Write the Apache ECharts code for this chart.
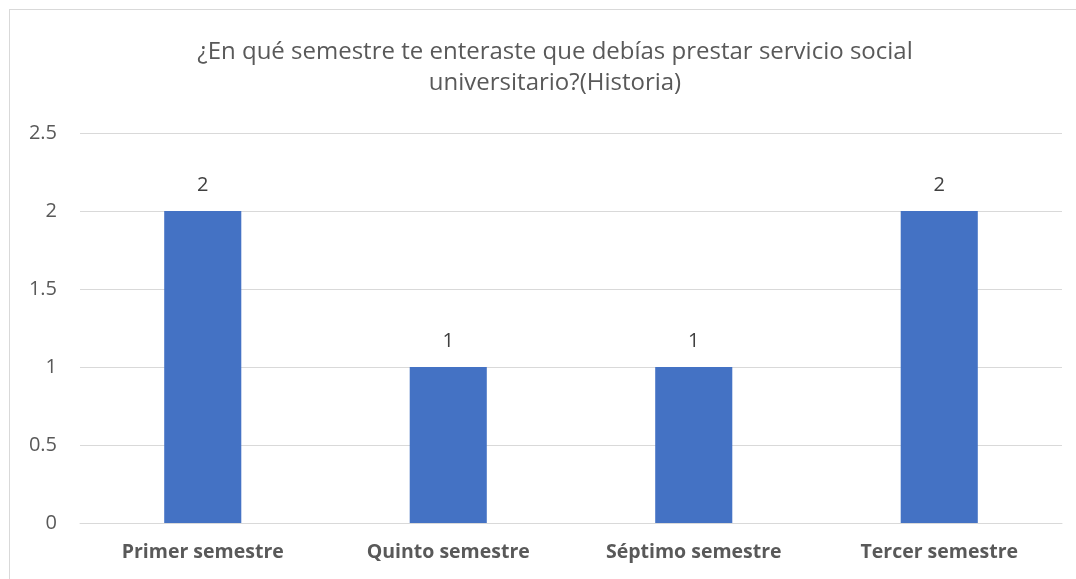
<!DOCTYPE html>
<html>
<head>
<meta charset="utf-8">
<script src="https://cdn.jsdelivr.net/npm/echarts@6/dist/echarts.min.js"></script>
<style>
  html, body { margin: 0; padding: 0; background: #ffffff; }
  #frame { position: absolute; left: 9px; top: 9px; width: 1080px; height: 590px; border: 1px solid #d9d9d9; box-sizing: border-box; }
  #chart { position: absolute; left: 0; top: 0; width: 1076px; height: 579px; }
</style>
</head>
<body>
<div id="frame"></div>
<div id="chart"></div>
<script>
const titleText = '¿En qué semestre te enteraste que debías prestar servicio social\nuniversitario?(Historia)';
const categories = ['Primer semestre', 'Quinto semestre', 'Séptimo semestre', 'Tercer semestre'];
const values = [2, 1, 1, 2];
const yTicks = { min: 0, max: 2.5, interval: 0.5 };

const chart = echarts.init(document.getElementById('chart'), null, { renderer: 'canvas' });
const font = '"Open Sans", "Noto Sans", sans-serif';
chart.setOption({
  animation: false,
  backgroundColor: 'transparent',
  title: {
    text: titleText,
    left: 550,
    textAlign: 'center',
    top: 32,
    textStyle: { fontFamily: font, fontSize: 24, fontWeight: 'normal', color: '#595959', lineHeight: 31 }
  },
  grid: { left: 80, right: 14, top: 133, bottom: 56, containLabel: false },
  xAxis: {
    type: 'category',
    data: categories,
    axisLine: { show: true, lineStyle: { color: '#d9d9d9', width: 1 } },
    axisTick: { show: false },
    axisLabel: { fontFamily: font, fontSize: 19.5, fontWeight: 'bold', color: '#595959', margin: 19 }
  },
  yAxis: {
    type: 'value',
    min: yTicks.min,
    max: yTicks.max,
    interval: yTicks.interval,
    axisLine: { show: false },
    axisTick: { show: false },
    splitLine: { lineStyle: { color: '#d9d9d9', width: 1 } },
    axisLabel: { fontFamily: font, fontSize: 20, color: '#595959', margin: 23 }
  },
  series: [{
    type: 'bar',
    data: values,
    barWidth: '31.4%',
    itemStyle: { color: '#4472C4' },
    label: {
      show: true,
      position: 'top',
      distance: 16,
      fontFamily: font,
      fontSize: 20,
      color: '#404040'
    }
  }]
});
</script>
</body>
</html>
